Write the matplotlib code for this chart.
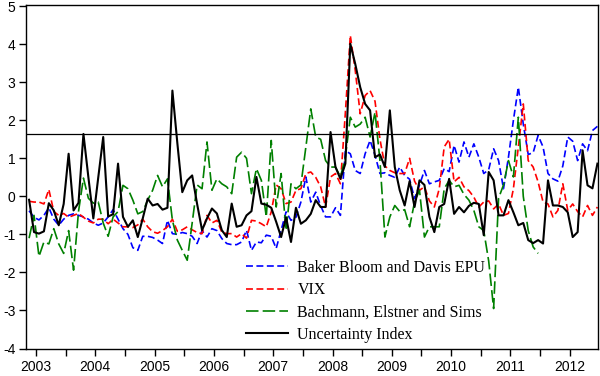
import numpy as np
import matplotlib
matplotlib.use("Agg")
import matplotlib.pyplot as plt

# monthly series, late 2002 .. mid 2012
bbd_epu = [
    -0.38, -0.55, -0.62, -0.50, -0.30, -0.60, -0.76, -0.60, -0.50, -0.46,
    -0.50, -0.54, -0.60, -0.70, -0.76, -0.70, -0.54, -0.35, -0.60, -0.85,
    -1.00, -1.35, -1.42, -1.05, -1.05, -1.08, -1.15, -1.24, -0.63, -0.98,
    -1.00, -0.95, -0.98, -1.05, -1.24, -0.90, -1.07, -0.85, -0.90, -1.11,
    -1.24, -1.27, -1.27, -1.20, -0.89, -1.42, -1.20, -1.22, -1.02, -1.05,
    -1.37, -0.89, -0.41, -0.63, -0.55, -0.15, 0.51, -0.15, 0.11, -0.25,
    -0.54, -0.54, -0.30, -0.50, 1.20, 1.12, 0.68, 0.60, 1.12, 1.47,
    1.08, 0.60, 0.62, 0.55, 0.50, 0.77, 0.55, 0.45, -0.06, 0.30,
    0.68, 0.33, 0.38, 0.42, 0.73, 0.65, 1.34, 0.90, 1.43, 1.03,
    1.38, 1.03, 0.60, 0.70, 1.25, 0.94, 0.20, 1.03, 2.00, 2.87,
    1.90, 1.10, 1.15, 1.60, 1.30, 0.60, 0.46, 0.40, 0.80, 1.56,
    1.45, 0.94, 1.38, 1.20, 1.73, 1.84,
]
vix = [
    -0.13, -0.15, -0.15, -0.20, 0.18, -0.40, -0.50, -0.45, -0.55, -0.50,
    -0.45, -0.55, -0.65, -0.70, -0.60, -0.60, -0.72, -0.60, -0.70, -0.80,
    -0.80, -0.82, -0.75, -0.60, -0.80, -0.93, -0.97, -0.90, -0.80, -0.60,
    -0.92, -0.88, -0.80, -0.88, -0.95, -0.98, -0.50, -0.70, -0.63, -0.94,
    -0.98, -0.98, -1.07, -0.98, -1.10, -0.63, -0.65, -0.72, -0.80, -0.41,
    0.30, 0.20, -0.19, -0.15, 0.16, 0.20, 0.60, 0.64, 0.50, 0.25,
    -0.28, 0.51, 0.60, 0.33, 2.20, 4.23, 3.31, 2.17, 2.65, 2.78,
    2.50, 1.50, 0.80, 0.68, 0.62, 0.60, 0.60, 1.00, 0.40, 0.16,
    0.25, -0.12, -0.28, 0.20, 1.30, 1.50, 0.38, 0.50, 0.25, 0.15,
    -0.02, -0.28, -0.15, -0.12, -0.33, -0.20, -0.50, -0.45, 0.20, 1.30,
    2.43, 0.94, 0.77, 0.38, -0.15, -0.20, -0.54, -0.37, 0.33, -0.37,
    -0.20, -0.40, -0.54, -0.24, -0.50, -0.28,
]
bes = [
    -1.10, -0.50, -1.58, -1.20, -1.25, -0.85, -1.25, -1.50, -0.90, -1.94,
    -0.40, 0.48, -0.05, -0.18, -0.15, -0.70, -1.05, -0.54, -0.40, 0.29,
    0.20, -0.10, -0.46, -0.40, -0.10, 0.16, 0.55, 0.25, 0.46, -0.63,
    -1.15, -1.42, -1.68, -0.70, 0.30, 0.20, 1.43, 0.16, 0.46, 0.33,
    0.25, 0.07, 1.03, 1.16, 1.00, 0.07, 0.73, 0.42, -0.54, 1.47,
    -0.28, 0.60, -0.89, 0.33, 0.20, 0.30, 1.29, 2.30, 1.56, 1.50,
    0.94, 0.77, 0.77, 0.51, 1.03, 2.08, 1.82, 1.90, 2.08, 1.56,
    2.21, 0.94, -1.07, -0.54, -0.24, -0.40, -0.35, -0.80, -0.15, 0.16,
    -1.07, -0.80, -0.80, -0.80, 0.20, 0.42, 0.25, 0.29, 0.05, -0.10,
    -0.37, -0.80, -0.90, -1.70, -2.95, -0.05, 0.30, 0.94, 0.51, 2.08,
    0.00, -0.90, -1.33, -1.50, np.nan, np.nan, np.nan, np.nan, np.nan, np.nan,
    np.nan, np.nan, np.nan, np.nan, np.nan, np.nan,
]
uncertainty = [
    -0.09, -0.94, -0.98, -0.92, -0.18, -0.37, -0.76, -0.20, 1.12, -0.37,
    -0.17, 1.64, 0.50, -0.58, 0.50, 1.56, -0.53, -0.47, 0.86, -0.54,
    -0.80, -0.63, -1.07, -0.58, -0.06, -0.24, -0.20, -0.35, -0.30, 2.78,
    1.40, 0.11, 0.42, 0.55, -0.20, -0.89, -0.58, -0.32, -0.45, -0.89,
    -1.07, -0.19, -0.80, -0.76, -0.50, -0.39, 0.51, -0.19, -0.22, -0.30,
    -0.67, -1.07, -0.55, -1.20, -0.30, -0.72, -0.63, -0.46, -0.10, -0.28,
    -0.28, 1.69, 0.77, 0.46, 0.86, 4.01, 3.48, 2.87, 2.43, 2.26,
    1.03, 1.10, 0.77, 2.26, 0.77, 0.16, -0.24, 0.40, -0.28, 0.42,
    0.30, -0.54, -0.94, -0.28, -0.20, 0.46, -0.46, -0.28, -0.42, -0.25,
    -0.17, -0.20, -1.02, 0.64, 0.42, -0.50, -0.50, -0.10, -0.42, -0.76,
    -0.70, -1.15, -1.23, -1.15, -1.24, 0.42, -0.24, -0.24, -0.28, -0.42,
    -1.07, -0.94, 1.21, 0.29, 0.21, 0.86,
]
threshold = 1.645
years = list(range(2003, 2013))

plt.rcParams['lines.scale_dashes'] = False
plt.rcParams['axes.unicode_minus'] = False

n = len(uncertainty)
t = 2003 + (np.arange(n) - 1.4) / 12.0

fig = plt.figure(figsize=(6.0, 3.76), dpi=100)
ax = fig.add_axes([0.0433, 0.0731, 0.9534, 0.9136])

ax.plot(t, bbd_epu, color='#0000ff', lw=1.2, dashes=(5.0, 2.5),
        label='Baker Bloom and Davis EPU')
ax.plot(t, vix, color='#ff0000', lw=1.2, dashes=(5.0, 2.5), label='VIX')
ax.plot(t, bes, color='#008000', lw=1.2, dashes=(9.0, 3.0),
        label='Bachmann, Elstner and Sims')
ax.plot(t, uncertainty, color='black', lw=1.5, label='Uncertainty Index')
ax.axhline(threshold, color='black', lw=0.9)

ax.set_xlim(2002.831, 2012.477)
ax.set_ylim(-4, 5.03)
ax.set_yticks(range(-4, 6))
ax.set_xticks(years)
ax.set_xticklabels([str(y) for y in years])
ax.set_xticks(np.array(years[:-1]) + 0.5, minor=True)

for s in ax.spines.values():
    s.set_linewidth(1.0)
ax.tick_params(axis='both', which='both', direction='out', length=5,
               width=1.0, labelsize=10)
ax.tick_params(axis='y', pad=2.5)
ax.tick_params(axis='x', which='both', length=5, pad=3)
for lab in ax.get_xticklabels() + ax.get_yticklabels():
    lab.set_family('Liberation Sans')

leg = ax.legend(loc='upper left', bbox_to_anchor=(0.385, 0.258), frameon=False,
                prop={'family': 'Liberation Serif', 'size': 11.5},
                handlelength=2.6, handletextpad=0.6, labelspacing=0.4,
                borderaxespad=0, borderpad=0)

fig.savefig('out.png', dpi=100)
